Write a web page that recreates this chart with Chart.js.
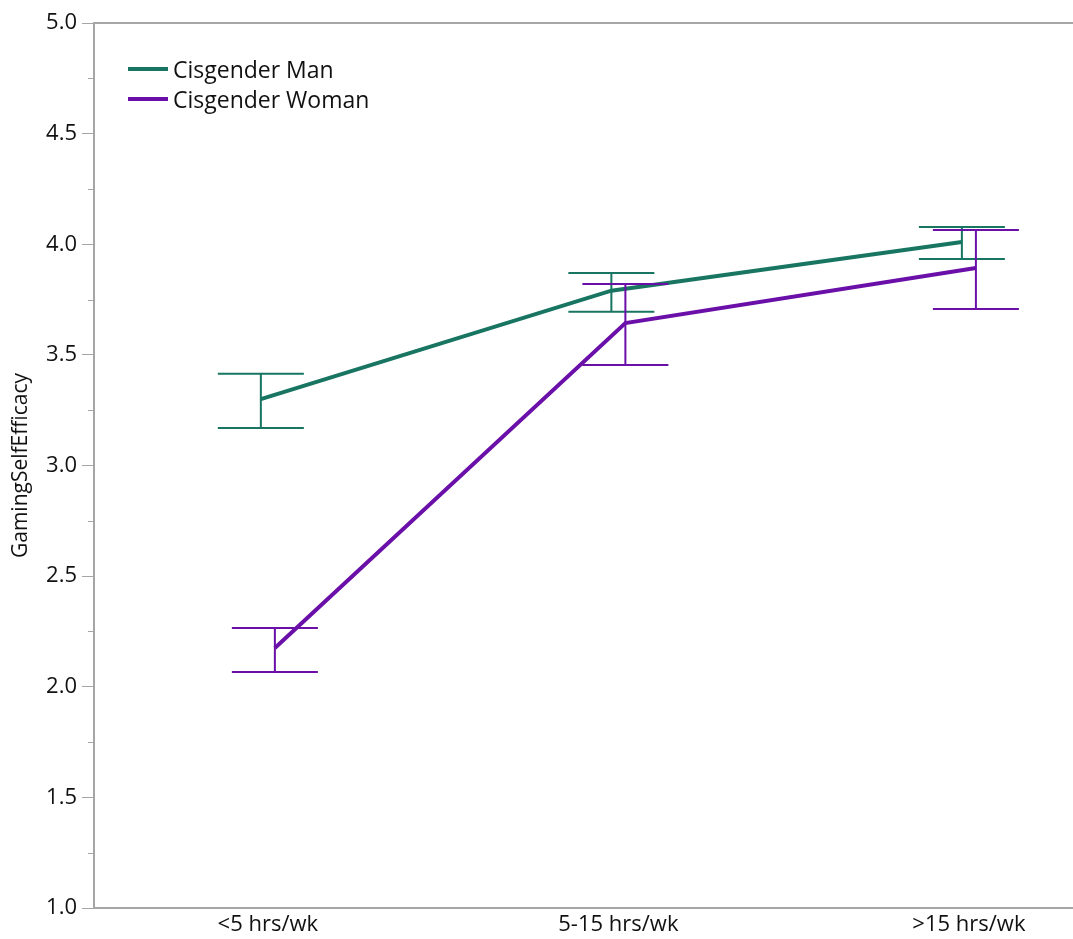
<!DOCTYPE html>
<html>
<head>
<meta charset="utf-8">
<script src="https://cdn.jsdelivr.net/npm/chart.js@4.4.1/dist/chart.umd.min.js"></script>
<style>
  html, body { margin: 0; padding: 0; background: #fff; }
  #wrap { position: relative; width: 1073px; height: 939px; }
  #legend { position: absolute; left: 128px; top: 54px; font-family: 'Open Sans', 'Noto Sans', sans-serif; font-size: 23px; color: #111; }
  #legend div { display: flex; align-items: center; height: 30px; }
  #legend span.sw { display: inline-block; width: 40px; height: 4px; margin-right: 5px; }
</style>
</head>
<body>
<div id="wrap">
  <canvas id="chart" width="1073" height="939"></canvas>
  <div id="legend"></div>
</div>
<script>
// categories + values
const categories = ['<5 hrs/wk', '5-15 hrs/wk', '>15 hrs/wk'];
const seriesNames = ['Cisgender Man', 'Cisgender Woman'];
const manMean  = [3.30, 3.79, 4.01];
const manLow   = [3.17, 3.695, 3.933];
const manHigh  = [3.415, 3.87, 4.078];
const womanMean = [2.175, 3.644, 3.893];
const womanLow  = [2.067, 3.454, 3.707];
const womanHigh = [2.265, 3.82, 4.064];
const colors = ['#187561', '#6a0fa8'];

const DODGE = 0.02;
const FONT = "'Open Sans', 'Noto Sans', sans-serif";

function points(mean, low, high, off) {
  return mean.map((v, i) => ({ x: i + 1 + off, y: v, lo: low[i], hi: high[i] }));
}

const errorBars = {
  id: 'errorBars',
  afterDatasetsDraw(chart) {
    const { ctx, scales: { x, y } } = chart;
    ctx.save();
    chart.data.datasets.forEach(ds => {
      ctx.strokeStyle = ds.borderColor;
      ctx.lineWidth = 2;
      ds.data.forEach(p => {
        const px = x.getPixelForValue(p.x);
        const yl = y.getPixelForValue(p.lo), yh = y.getPixelForValue(p.hi);
        ctx.beginPath();
        ctx.moveTo(px, yl); ctx.lineTo(px, yh);
        ctx.moveTo(px - 43, yl); ctx.lineTo(px + 43, yl);
        ctx.moveTo(px - 43, yh); ctx.lineTo(px + 43, yh);
        ctx.stroke();
      });
    });
    ctx.restore();
  }
};

const frame = {
  id: 'frame',
  afterDraw(chart) {
    const { ctx, chartArea: a, scales: { y } } = chart;
    ctx.save();
    ctx.strokeStyle = '#a6a6a6';
    ctx.lineWidth = 2;
    ctx.beginPath();
    ctx.moveTo(a.left, a.top); ctx.lineTo(a.right, a.top);
    ctx.stroke();
    // minor ticks
    ctx.lineWidth = 1;
    for (let v = 1.25; v < 5; v += 0.5) {
      const py = Math.round(y.getPixelForValue(v)) + 0.5;
      ctx.beginPath();
      ctx.moveTo(a.left - 6, py); ctx.lineTo(a.left, py);
      ctx.stroke();
    }
    ctx.restore();
  }
};

const chart = new Chart(document.getElementById('chart'), {
  type: 'line',
  data: {
    datasets: [
      { label: seriesNames[0], data: points(manMean, manLow, manHigh, -DODGE), borderColor: colors[0], borderWidth: 4, pointRadius: 0, fill: false, tension: 0 },
      { label: seriesNames[1], data: points(womanMean, womanLow, womanHigh, DODGE), borderColor: colors[1], borderWidth: 4, pointRadius: 0, fill: false, tension: 0 }
    ]
  },
  options: {
    responsive: false, animation: false,
    layout: { padding: { top: 23, right: 0, left: 0, bottom: 0 } },
    plugins: { legend: { display: false }, tooltip: { enabled: false } },
    scales: {
      x: {
        type: 'linear', min: 0.504, max: 3.297,
        afterBuildTicks: s => { s.ticks = [1, 2, 3].map(v => ({ value: v })); },
        afterFit: s => { s.height = 31; },
        ticks: { callback: v => categories[v - 1], color: '#111', font: { family: FONT, size: 22 }, padding: 4, maxRotation: 0 },
        grid: { display: false, drawTicks: false },
        border: { color: '#a6a6a6', width: 2 }
      },
      y: {
        min: 1, max: 5,
        afterFit: s => { s.width = 94; },
        ticks: { stepSize: 0.5, callback: v => v.toFixed(1), color: '#111', font: { family: FONT, size: 22 }, padding: 5 },
        grid: { drawOnChartArea: false, tickLength: 12, color: '#a6a6a6', tickWidth: 1 },
        border: { color: '#a6a6a6', width: 2 },
        title: { display: true, text: 'GamingSelfEfficacy', color: '#111', font: { family: FONT, size: 21 }, padding: { top: 8, bottom: 0 } }
      }
    }
  },
  plugins: [errorBars, frame]
});

document.getElementById('legend').innerHTML = seriesNames.map((n, i) =>
  `<div><span class="sw" style="background:${colors[i]}"></span>${n}</div>`).join('');
</script>
</body>
</html>
